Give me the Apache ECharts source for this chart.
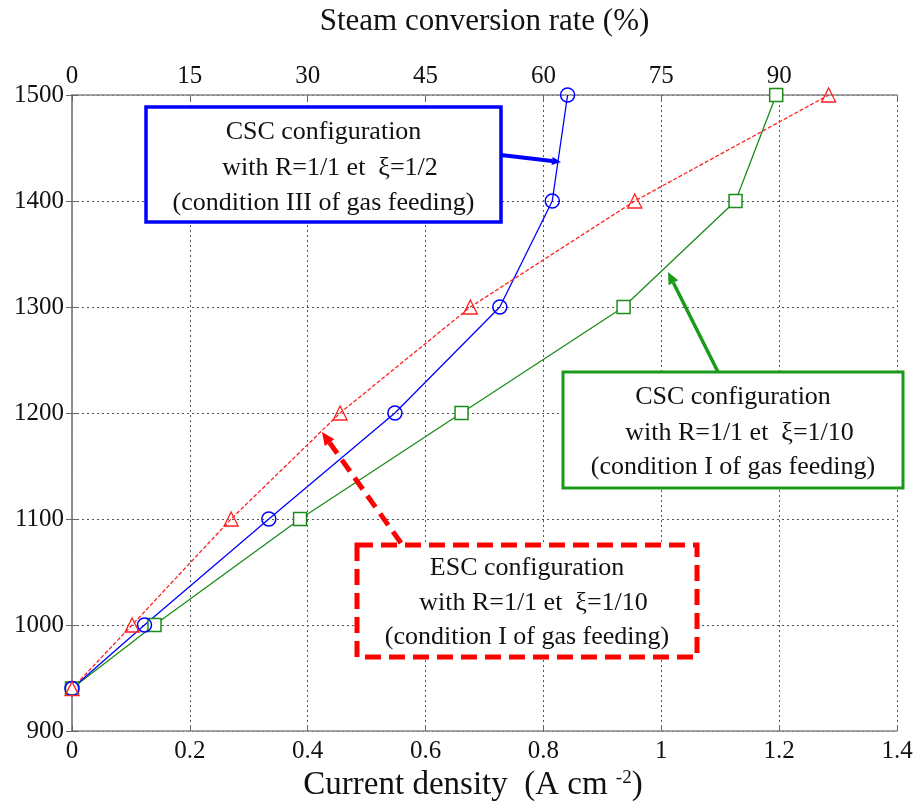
<!DOCTYPE html>
<html>
<head>
<meta charset="utf-8">
<script src="https://cdn.jsdelivr.net/npm/echarts@6/dist/echarts.min.js"></script>
<style>
  html, body { margin: 0; padding: 0; background: #fff; }
  #chart { width: 917px; height: 810px; }
</style>
</head>
<body>
<div id="chart"></div>
<script>
  // temperatures (°C) shared by the three curves
  const temps = [940, 1000, 1100, 1200, 1300, 1400, 1500]
  // current density (A cm-2)
  const cscHalf = [0, 0.123, 0.334, 0.548, 0.726, 0.815, 0.841]    // CSC, xi=1/2, blue
  const escTenth = [0, 0.102, 0.270, 0.455, 0.676, 0.955, 1.284]   // ESC, xi=1/10, red
  const cscTenth = [0, 0.140, 0.387, 0.661, 0.936, 1.126, 1.195]   // CSC, xi=1/10, green
  const topTicks = [0, 15, 30, 45, 60, 75, 90]

  const FONT = '"Liberation Serif", "Times New Roman", serif'

  function pairs(xs) {
    return xs.map((x, i) => [x, temps[i]])
  }

  // line + filled head, pixel coords
  function arrow(x1, y1, x2, y2, color, width, dash, head) {
    const a = Math.atan2(y2 - y1, x2 - x1)
    const bx = x2 - head * Math.cos(a), by = y2 - head * Math.sin(a)
    const w = head * 0.45
    return [
      {
        type: 'line', z: 110,
        shape: {x1: x1, y1: y1, x2: bx, y2: by},
        style: {stroke: color, lineWidth: width, lineDash: dash}
      },
      {
        type: 'polygon', z: 110,
        shape: {points: [[x2, y2], [bx - w * Math.sin(a), by + w * Math.cos(a)], [bx + w * Math.sin(a), by - w * Math.cos(a)]]},
        style: {fill: color}
      }
    ]
  }

  function box(x, y, w, h, color, lw, dash, lines, lineYs) {
    const out = [{
      type: 'rect', z: 100,
      shape: {x: x, y: y, width: w, height: h},
      style: {fill: '#fff', stroke: color, lineWidth: lw, lineDash: dash}
    }]
    lines.forEach((t, i) => {
      out.push({
        type: 'text', z: 101,
        style: {
          text: t, x: x + w / 2, y: lineYs[i],
          textAlign: 'center', textVerticalAlign: 'middle',
          font: '26px ' + FONT, fill: '#111'
        }
      })
    })
    return out
  }

  const chart = echarts.init(document.getElementById('chart'), null, {renderer: 'canvas'})

  const graphics = [].concat(
    box(146, 107, 355, 115, '#0000ff', 3.5, null,
      ['CSC configuration', '  with R=1/1 et  ξ=1/2', '(condition III of gas feeding)'], [132, 168, 203]),
    arrow(501, 155, 561, 162, '#0000ff', 4, null, 9),
    box(563, 372, 340, 116, '#1a9a1a', 3, null,
      ['CSC configuration', '  with R=1/1 et  ξ=1/10', '(condition I of gas feeding)'], [397, 433, 467]),
    arrow(718, 372, 668, 272, '#1a9a1a', 3.5, null, 12),
    box(357, 545, 340, 112, '#ff0000', 5, [16, 8],
      ['ESC configuration', '  with R=1/1 et  ξ=1/10', '(condition I of gas feeding)'], [568, 603, 637]),
    arrow(401, 543, 322, 432, '#ff0000', 5, [14, 8], 13),
    [{
      type: 'text', z: 101,
      style: {
        text: 'Current density  (A cm {sup|-2})', x: 473, y: 785,
        textAlign: 'center', textVerticalAlign: 'middle',
        font: '33px ' + FONT, fill: '#111',
        rich: {sup: {fontFamily: FONT, fontSize: 19, fill: '#111', verticalAlign: 'top', padding: [0, 0, 14, 0]}}
      }
    }]
  )

  chart.setOption({
    backgroundColor: '#fff',
    animation: false,
    grid: {left: 72, right: 20, top: 95, bottom: 79},
    xAxis: [
      {
        type: 'value', position: 'bottom',
        min: 0, max: 1.4, interval: 0.2,
        axisLine: {show: true, lineStyle: {color: '#888', width: 1.5}},
        axisTick: {show: true, inside: true, length: 6, lineStyle: {color: '#666'}},
        axisLabel: {fontFamily: FONT, fontSize: 25, color: '#111', margin: 8},
        splitLine: {show: true, lineStyle: {color: '#555', type: [2, 3], width: 1}}
      },
      {
        type: 'value', position: 'top',
        min: 0, max: 105, interval: 15,
        name: 'Steam conversion rate (%)',
        nameLocation: 'middle', nameGap: 58,
        nameTextStyle: {fontFamily: FONT, fontSize: 31, color: '#111'},
        axisLine: {show: true, lineStyle: {color: '#888', width: 1.5}},
        axisTick: {show: true, inside: true, length: 6, lineStyle: {color: '#666'}},
        axisLabel: {
          fontFamily: FONT, fontSize: 25, color: '#111', margin: 6,
          formatter: v => topTicks.indexOf(v) >= 0 ? String(v) : ''
        },
        splitLine: {show: false}
      }
    ],
    yAxis: [
      {
        type: 'value', position: 'left',
        min: 900, max: 1500, interval: 100,
        axisLine: {show: true, lineStyle: {color: '#888', width: 1.5}},
        axisTick: {show: true, inside: true, length: 6, lineStyle: {color: '#666'}},
        axisLabel: {fontFamily: FONT, fontSize: 25, color: '#111', margin: 8, formatter: v => String(v)},
        splitLine: {show: true, lineStyle: {color: '#555', type: [2, 3], width: 1}}
      },
      {
        type: 'value', position: 'right',
        min: 900, max: 1500, interval: 100,
        axisLine: {show: true, lineStyle: {color: '#888', width: 1.5}},
        axisTick: {show: true, inside: true, length: 6, lineStyle: {color: '#666'}},
        axisLabel: {show: false},
        splitLine: {show: false}
      }
    ],
    series: [
      {
        name: 'CSC xi=1/10',
        type: 'line',
        data: pairs(cscTenth),
        symbol: 'rect', symbolSize: 13,
        itemStyle: {color: '#fff', borderColor: '#1a8c1a', borderWidth: 1.5},
        lineStyle: {color: '#1a8c1a', width: 1.3}
      },
      {
        name: 'CSC xi=1/2',
        type: 'line',
        data: pairs(cscHalf),
        symbol: 'circle', symbolSize: 14,
        itemStyle: {color: 'rgba(255,255,255,0)', borderColor: '#0000ff', borderWidth: 1.5},
        lineStyle: {color: '#0000ff', width: 1.3}
      },
      {
        name: 'ESC xi=1/10',
        type: 'line',
        data: pairs(escTenth),
        symbol: 'triangle', symbolSize: 14,
        itemStyle: {color: 'rgba(255,255,255,0)', borderColor: '#ff2020', borderWidth: 1.3},
        lineStyle: {color: '#ff2020', width: 1.3, type: [4, 2]}
      }
    ],
    graphic: graphics
  })
</script>
</body>
</html>
